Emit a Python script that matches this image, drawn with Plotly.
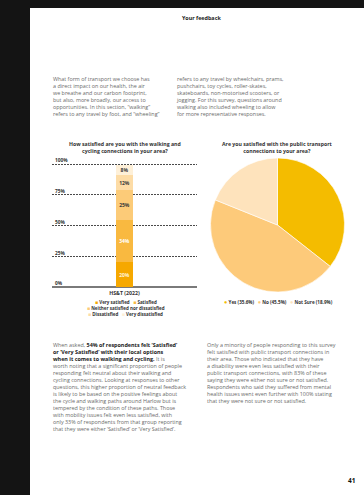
import plotly.graph_objects as go

W, H = 364, 495
def px(x): return x / W
def py(y): return 1 - y / H

# ---- data ----
bar_category = ["HS&T (2022)"]
bar_levels = ["Very satisfied", "Satisfied", "Neither satisfied nor dissatisfied",
              "Dissatisfied", "Very dissatisfied"]
bar_values = [20, 34, 25, 12, 8]
bar_colors = ["#F6A800", "#F9B940", "#FCCB78", "#FDDCA6", "#FEF0D8"]
bar_text_colors = ["#FFF4DC", "#FFFFFF", "#3a3a3a", "#3a3a3a", "#3a3a3a"]
y_ticks = [0, 25, 50, 75, 100]

pie_labels = ["Yes", "No", "Not Sure"]
pie_values = [35.6, 45.5, 18.9]
pie_colors = ["#F4BC00", "#FDCA7A", "#FEE3BC"]

bar_title = "How satisfied are you with the walking and<br>cycling connections in your area?"
pie_title = "Are you satisfied with the public transport<br>connections to your area?"

intro_left = ["What form of transport we choose has",
              "a direct impact on our health, the air",
              "we breathe and our carbon footprint,",
              "but also, more broadly, our access to",
              "opportunities. In this section, \u201cwalking\u201d",
              "refers to any travel by foot, and \u201cwheeling\u201d"]
intro_right = ["refers to any travel by wheelchairs, prams,",
               "pushchairs, toy cycles, roller-skates,",
               "skateboards, non-motorised scooters, or",
               "jogging. For this survey, questions around",
               "walking also included wheeling to allow",
               "for more representative responses."]
body_left = ["When asked, <b style='color:#222'>54% of respondents felt \u2018Satisfied\u2019</b>",
             "<b style='color:#222'>or \u2018Very Satisfied\u2019 with their local options</b>",
             "<b style='color:#222'>when it comes to walking and cycling.</b> It is",
             "worth noting that a significant proportion of people",
             "responding felt neutral about their walking and",
             "cycling connections. Looking at responses to other",
             "questions, this higher proportion of neutral feedback",
             "is likely to be based on the positive feelings about",
             "the cycle and walking paths around Harlow but is",
             "tempered by the condition of these paths. Those",
             "with mobility issues felt even less satisfied, with",
             "only 33% of respondents from that group reporting",
             "that they were either \u2018Satisfied\u2019 or \u2018Very Satisfied\u2019."]
body_right = ["Only a minority of people responding to this survey",
              "felt satisfied with public transport connections in",
              "their area. Those who indicated that they have",
              "a disability were even less satisfied with their",
              "public transport connections, with 83% of these",
              "saying they were either not sure or not satisfied.",
              "Respondents who said they suffered from mental",
              "health issues went even further with 100% stating",
              "that they were not sure or not satisfied."]

FONT = "Open Sans"
BODY_SIZE = 5.4
BODY_COLOR = "#6a6a6a"
CHART_TXT = "#333333"

fig = go.Figure()

for lvl, v, c, tc in zip(bar_levels, bar_values, bar_colors, bar_text_colors):
    fig.add_trace(go.Bar(
        x=bar_category, y=[v], name=lvl, marker=dict(color=c, line=dict(width=0)),
        width=0.117, text=[f"{v}%"], texttemplate="<b>%{text}</b>",
        textposition="inside", insidetextanchor="middle", textangle=0,
        constraintext="none",
        textfont=dict(size=5, color=tc, family=FONT), showlegend=False,
        cliponaxis=False))

fig.add_trace(go.Pie(
    labels=pie_labels, values=pie_values, sort=False, direction="clockwise",
    rotation=0, textinfo="none", showlegend=False,
    marker=dict(colors=pie_colors, line=dict(color="white", width=0.6)),
    domain=dict(x=[px(210), px(345)], y=[py(292), py(158)])))

# y axis: 0 at y=287px, 100 at y=164px; range extended so the 100 line and label show
y_top = 108
pix_per_unit = (287 - 164) / 100
fig.update_layout(
    width=W, height=H, autosize=False,
    margin=dict(l=0, r=0, t=0, b=0, pad=0),
    paper_bgcolor="#141414", plot_bgcolor="rgba(0,0,0,0)",
    barmode="stack", bargap=0,
    font=dict(family=FONT, color=CHART_TXT),
    xaxis=dict(domain=[px(52), px(197)], type="category", range=[-0.5, 0.5],
               showgrid=False, showline=False, zeroline=False, ticks="",
               tickfont=dict(size=5.2, color=CHART_TXT, family=FONT),
               ticklabelstandoff=2, fixedrange=True),
    yaxis=dict(domain=[py(287), py(287 - y_top * pix_per_unit)], range=[0, y_top],
               tickvals=y_ticks,
               ticktext=[f"<b>{t}%</b>" for t in y_ticks],
               ticklabelposition="inside top", ticks="",
               tickfont=dict(size=4.8, color=CHART_TXT, family=FONT),
               showgrid=True, gridcolor="#4a4a4a", gridwidth=0.8, griddash="2px,1px",
               zeroline=True, zerolinecolor="#7a7a7a", zerolinewidth=2,
               showline=False, fixedrange=True),
    shapes=[dict(type="rect", xref="paper", yref="paper", x0=px(30), x1=1,
                 y0=0, y1=py(8), fillcolor="white", line=dict(width=0), layer="below")],
)
fig.update_xaxes(ticktext=[f"<b>{c}</b>" for c in bar_category], tickvals=bar_category)

ann = []
def text_block(lines, x, y, size=BODY_SIZE, color=BODY_COLOR, align="left", xanchor="left"):
    ann.append(dict(text="<br>".join(lines), x=px(x), y=py(y), xref="paper", yref="paper",
                    xanchor=xanchor, yanchor="top", align=align, showarrow=False,
                    font=dict(size=size, color=color, family=FONT)))

# header and page number
ann.append(dict(text="<b>Your feedback</b>", x=px(201), y=py(18), xref="paper", yref="paper",
                xanchor="center", yanchor="middle", showarrow=False,
                font=dict(size=5.4, color="#222", family=FONT)))
ann.append(dict(text="<b>41</b>", x=px(351), y=py(480), xref="paper", yref="paper",
                xanchor="center", yanchor="middle", showarrow=False,
                font=dict(size=6.5, color="#111", family=FONT)))

text_block(intro_left, 51, 73)
text_block(intro_right, 174, 73)
text_block(body_left, 51, 339)
text_block(body_right, 205, 339)

# chart titles
for t, cx in [(bar_title, 124.5), (pie_title, 277.5)]:
    ann.append(dict(text=f"<b>{t}</b>", x=px(cx), y=py(137.5), xref="paper", yref="paper",
                    xanchor="center", yanchor="top", align="center", showarrow=False,
                    font=dict(size=5.2, color=CHART_TXT, family=FONT)))

# bar legend (three rows)
def sq(c): return f"<span style='color:{c};font-size:5px'>\u25A0</span>"
rows = [[0, 1], [2], [3, 4]]
row_y = [301.8, 308.1, 314.4]
for r, yy in zip(rows, row_y):
    s = "   ".join(f"{sq(bar_colors[i])} <b>{bar_levels[i]}</b>" for i in r)
    ann.append(dict(text=s, x=px(125.5), y=py(yy), xref="paper", yref="paper",
                    xanchor="center", yanchor="middle", align="center", showarrow=False,
                    font=dict(size=4.5, color=CHART_TXT, family=FONT)))

# pie legend
def dot(c): return f"<span style='color:{c};font-size:5.5px'>\u25CF</span>"
pie_leg = "   ".join(f"{dot(c)} <b>{l} ({v}%)</b>" for l, v, c in zip(pie_labels, pie_values, pie_colors))
ann.append(dict(text=pie_leg, x=px(278), y=py(302.3), xref="paper", yref="paper",
                xanchor="center", yanchor="middle", showarrow=False,
                font=dict(size=4.6, color=CHART_TXT, family=FONT)))

fig.update_layout(annotations=ann)
fig.write_html("out.html")
